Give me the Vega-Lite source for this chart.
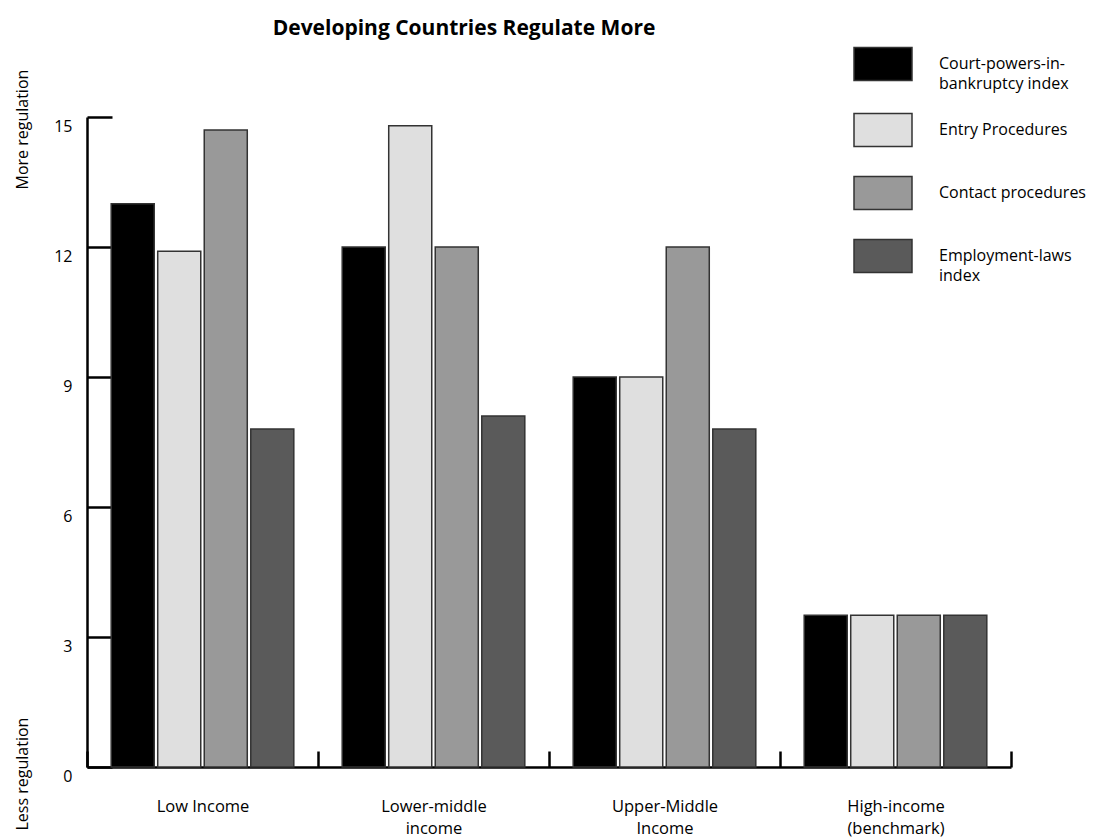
{
  "$schema": "https://vega.github.io/schema/vega-lite/v6.json",
  "width": 924,
  "height": 650,
  "autosize": {"type": "none"},
  "padding": {"left": 87, "top": 117, "right": 91, "bottom": 73},
  "background": "white",
  "config": {
    "font": "Open Sans",
    "view": {"stroke": null},
    "axis": {"grid": false},
    "style": {"guide-label": {"lineHeight": 20}}
  },
  "title": {
    "text": "Developing Countries Regulate More",
    "fontSize": 21,
    "fontWeight": "bold",
    "color": "black",
    "anchor": "middle",
    "frame": "group",
    "dx": -85,
    "offset": 0
  },
  "data": {
    "values": [
      {"group": "Low Income", "series": "Court-powers-in-bankruptcy index", "value": 13.0},
      {"group": "Low Income", "series": "Entry Procedures", "value": 11.9},
      {"group": "Low Income", "series": "Contact procedures", "value": 14.7},
      {"group": "Low Income", "series": "Employment-laws index", "value": 7.8},
      {"group": "Lower-middle income", "series": "Court-powers-in-bankruptcy index", "value": 12.0},
      {"group": "Lower-middle income", "series": "Entry Procedures", "value": 14.8},
      {"group": "Lower-middle income", "series": "Contact procedures", "value": 12.0},
      {"group": "Lower-middle income", "series": "Employment-laws index", "value": 8.1},
      {"group": "Upper-Middle Income", "series": "Court-powers-in-bankruptcy index", "value": 9.0},
      {"group": "Upper-Middle Income", "series": "Entry Procedures", "value": 9.0},
      {"group": "Upper-Middle Income", "series": "Contact procedures", "value": 12.0},
      {"group": "Upper-Middle Income", "series": "Employment-laws index", "value": 7.8},
      {"group": "High-income (benchmark)", "series": "Court-powers-in-bankruptcy index", "value": 3.5},
      {"group": "High-income (benchmark)", "series": "Entry Procedures", "value": 3.5},
      {"group": "High-income (benchmark)", "series": "Contact procedures", "value": 3.5},
      {"group": "High-income (benchmark)", "series": "Employment-laws index", "value": 3.5}
    ]
  },
  "layer": [
    {
      "mark": {"type": "bar", "stroke": "#333333", "strokeWidth": 1.5},
      "encoding": {
        "x": {
          "field": "group",
          "type": "nominal",
          "sort": ["Low Income", "Lower-middle income", "Upper-Middle Income", "High-income (benchmark)"],
          "scale": {"paddingInner": 0, "paddingOuter": 0},
          "axis": {
            "title": null,
            "labelAngle": 0,
            "tickBand": "extent",
            "tickSize": -16,
            "tickWidth": 2.5,
            "tickColor": "black",
            "domainColor": "black",
            "domainWidth": 2.5,
            "labelFontSize": 16.5,
            "labelColor": "black",
            "labelBaseline": "top",
            "labelLineHeight": 22,
            "labelPadding": 47,
            "labelExpr": "datum.label == 'Low Income' ? datum.label : split(datum.label, ' ')"
          }
        },
        "xOffset": {
          "field": "series",
          "type": "nominal",
          "sort": ["Court-powers-in-bankruptcy index", "Entry Procedures", "Contact procedures", "Employment-laws index"],
          "scale": {"paddingInner": 0.075, "paddingOuter": 0.52}
        },
        "y": {
          "field": "value",
          "type": "quantitative",
          "scale": {"domain": [0, 15], "nice": false},
          "axis": {
            "values": [0, 3, 6, 9, 12, 15],
            "tickSize": -25,
            "tickWidth": 2.5,
            "tickColor": "black",
            "domainColor": "black",
            "domainWidth": 2.5,
            "labelFontSize": 16,
            "labelColor": "black",
            "labelPadding": 40,
            "labelOffset": 9,
            "title": "More regulation",
            "titleAngle": -90,
            "titleX": -65,
            "titleY": 72,
            "titleAlign": "left",
            "titleBaseline": "middle",
            "titleFontSize": 16,
            "titleFontWeight": "normal",
            "titleColor": "black"
          }
        },
        "color": {
          "field": "series",
          "type": "nominal",
          "scale": {
            "domain": ["Court-powers-in-bankruptcy index", "Entry Procedures", "Contact procedures", "Employment-laws index"],
            "range": ["#000000", "#dfdfdf", "#999999", "#5a5a5a"]
          },
          "legend": {
            "orient": "none",
            "legendX": 766,
            "legendY": -78,
            "title": null,
            "padding": 0,
            "symbolType": "M-1,-0.57H1V0.57H-1Z",
            "symbolSize": 3364,
            "symbolStrokeColor": "#333333",
            "symbolStrokeWidth": 1.5,
            "labelFontSize": 16,
            "labelColor": "black",
            "labelOffset": 26,
            "labelLimit": 300,
            "clipHeight": 50,
            "rowPadding": 13,
            "labelExpr": "datum.label == 'Court-powers-in-bankruptcy index' ? ['Court-powers-in-', 'bankruptcy index'] : datum.label == 'Employment-laws index' ? ['Employment-laws', ' index'] : datum.label"
          }
        }
      }
    },
    {
      "mark": {"type": "rule", "opacity": 0},
      "encoding": {
        "y": {
          "datum": 0,
          "type": "quantitative",
          "axis": {
            "orient": "left",
            "domain": false,
            "ticks": false,
            "labels": false,
            "grid": false,
            "title": "Less regulation",
            "titleAngle": -90,
            "titleX": -65,
            "titleY": 713,
            "titleAlign": "left",
            "titleBaseline": "middle",
            "titleFontSize": 16,
            "titleFontWeight": "normal",
            "titleColor": "black"
          }
        }
      }
    }
  ],
  "resolve": {"axis": {"y": "independent"}}
}
